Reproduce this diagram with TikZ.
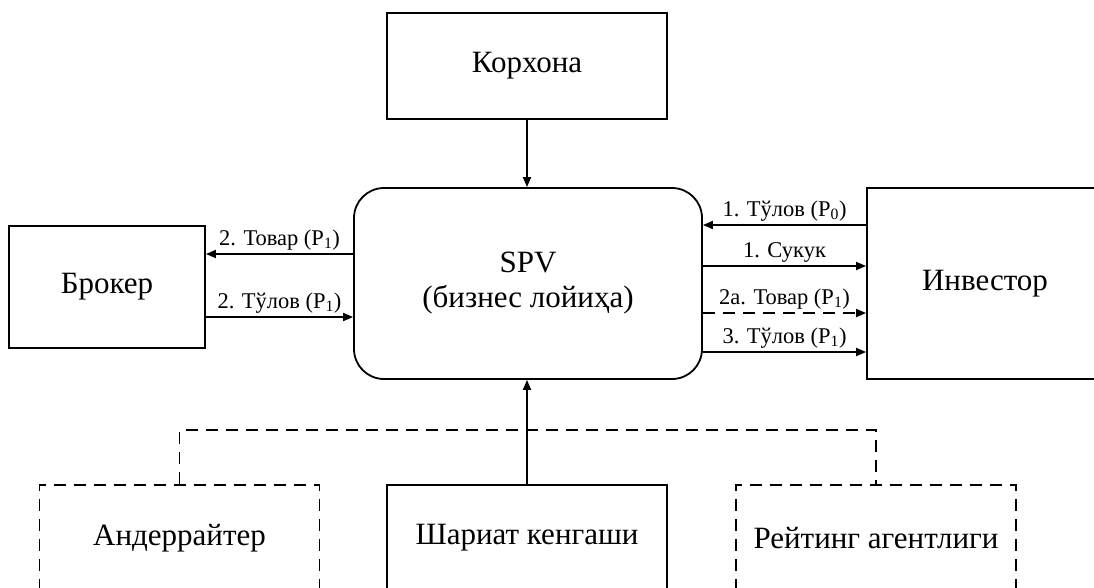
\documentclass[tikz,border=0pt]{standalone}
\usepackage{fontspec}
\setmainfont{Liberation Serif}
\usetikzlibrary{arrows.meta}

\begin{document}
\begin{tikzpicture}[
  x=1pt, y=-1pt,
  line width=1.8pt,
  box/.style={draw, align=center, font=\fontsize{31}{35}\selectfont,
    minimum width=280pt, minimum height=106pt},
  dbox/.style={box, dash pattern=on 12pt off 8pt},
  arrow/.style={-{Triangle[length=10pt, width=8pt]}},
  darrow/.style={arrow, dash pattern=on 12pt off 8pt},
  link/.style={dash pattern=on 12pt off 8pt},
  lbl/.style={above, inner sep=3pt, font=\fontsize{22.5}{26}\selectfont}
]
\useasboundingbox (0,0) rectangle (1094,587);
\clip (0,0) rectangle (1094,587);

\node[box] (korh) at (527,66) {Корхона};
\node[box, rounded corners=30pt, minimum width=348pt, minimum height=191pt]
  (spv) at (528,283.5) {SPV\\(бизнес лойиҳа)};
\node[box, minimum width=196pt, minimum height=122pt] (brok) at (107,287) {Брокер};
\node[box, minimum width=236pt, minimum height=191pt] (inv) at (985,283.5) {Инвестор};

\node[dbox] (under) at (179.5,538) {Андеррайтер};
\node[box] (shar) at (527,538) {Шариат кенгаши};
\node[dbox] (rate) at (876,538) {Рейтинг агентлиги};

\draw[arrow] (korh) -- (korh |- spv.north);
\draw[arrow] (shar) -- (shar |- spv.south);
\draw[link] (under.north) -- ([yshift=54pt]under.north) -| (rate.north);

% broker side
\draw[arrow] ([yshift=29.5pt]spv.west) -- ([yshift=29.5pt]spv.west -| brok.east)
  node[lbl, midway] {2. Товар (P\textsubscript{1})};
\draw[arrow] ([yshift=-33.5pt]spv.west -| brok.east) -- ([yshift=-33.5pt]spv.west)
  node[lbl, midway] {2. Тўлов (P\textsubscript{1})};

% investor side
\draw[arrow] ([yshift=58.5pt]inv.west) -- ([yshift=58.5pt]inv.west -| spv.east)
  node[lbl, midway] {1. Тўлов (P\textsubscript{0})};
\draw[arrow] ([yshift=17.5pt]spv.east) -- ([yshift=17.5pt]spv.east -| inv.west)
  node[lbl, midway] {1. Сукук};
\draw[darrow] ([yshift=-29.5pt]spv.east) -- ([yshift=-29.5pt]spv.east -| inv.west)
  node[lbl, midway] {2а. Товар (P\textsubscript{1})};
\draw[arrow] ([yshift=-68.5pt]spv.east) -- ([yshift=-68.5pt]spv.east -| inv.west)
  node[lbl, midway] {3. Тўлов (P\textsubscript{1})};
\end{tikzpicture}
\end{document}
